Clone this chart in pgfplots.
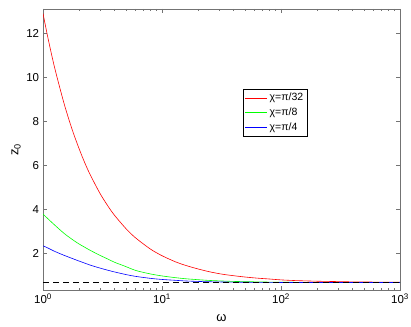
\documentclass[border=0pt]{standalone}
\usepackage{fontspec}
\setmainfont{Liberation Sans}
\usepackage{pgfplots}
\pgfplotsset{compat=1.18}

% z0 against omega
\pgfplotstableread{
w     red    green  blue
1     12.90  3.77   2.33
1.1   11.79  3.56   2.23
1.25  10.45  3.28   2.08
1.5   8.82   2.90   1.90
1.75  7.65   2.63   1.76
2     6.78   2.42   1.64
2.25  6.09   2.26   1.54
2.5   5.55   2.12   1.45
3     4.73   1.90   1.32
3.5   4.15   1.73   1.22
4     3.71   1.58   1.14
5     3.10   1.38   1.02
6     2.69   1.21   0.94
8     2.18   1.05   0.85
10    1.88   0.96   0.80
13    1.60   0.88   0.76
16    1.43   0.83   0.73
20    1.28   0.79   0.71
25    1.15   0.755  0.695
32    1.04   0.73   0.685
40    0.97   0.71   0.678
50    0.91   0.70   0.672
63    0.86   0.69   0.668
80    0.82   0.68   0.665
100   0.78   0.675  0.663
130   0.75   0.67   0.662
160   0.735  0.667  0.661
200   0.72   0.665  0.661
250   0.71   0.664  0.660
320   0.70   0.663  0.660
400   0.69   0.662  0.660
500   0.685  0.661  0.660
630   0.68   0.661  0.660
800   0.675  0.660  0.660
1000  0.672  0.660  0.660
}\zdata

\begin{document}
\fontsize{11}{13}\selectfont
\begin{tikzpicture}
\begin{axis}[
    at={(0,0)}, anchor=south west,
    scale only axis, width=357pt, height=281pt,
    xmode=log, xmin=1, xmax=1000,
    ymin=0.32, ymax=13.1,
    xtick={1,10,100,1000},
    xticklabels={10\textsuperscript{0},10\textsuperscript{1},10\textsuperscript{2},10\textsuperscript{3}},
    ytick={2,4,6,8,10,12},
    /pgf/number format/assume math mode=true,
    ticklabel style={font=\fontsize{11.5}{13}\selectfont},
    tick align=inside,
    major tick length=4pt, minor tick length=2.5pt,
    axis line style={black!55, line width=0.8pt},
    every tick/.style={black!55, line width=0.5pt},
    xlabel={ω}, ylabel={z\textsubscript{0}},
    xlabel style={font=\fontsize{13}{15}\selectfont, yshift=-3pt},
    ylabel style={font=\fontsize{13}{15}\selectfont, yshift=-2pt},
    legend style={at={(0.56,0.715)}, anchor=north west,
        font=\fontsize{10.5}{12}\selectfont, inner sep=2pt, row sep=1.5pt},
    legend cell align=left,
    legend image code/.code={\draw[#1] (0pt,0pt) -- (22pt,0pt);},
]
\addplot[red, line width=0.6pt, smooth] table[x=w, y=red] {\zdata};
\addlegendentry{χ=π/32}
\addplot[green, line width=0.6pt, smooth] table[x=w, y=green] {\zdata};
\addlegendentry{χ=π/8}
\addplot[blue, line width=0.6pt, smooth] table[x=w, y=blue] {\zdata};
\addlegendentry{χ=π/4}
\addplot[black, line width=1.5pt, dash pattern=on 6pt off 4pt, forget plot]
    coordinates {(1,0.66) (1000,0.66)};
\end{axis}
\pgfresetboundingbox
\path (-43pt,-36pt) rectangle (368pt,290pt);
\end{tikzpicture}
\end{document}
